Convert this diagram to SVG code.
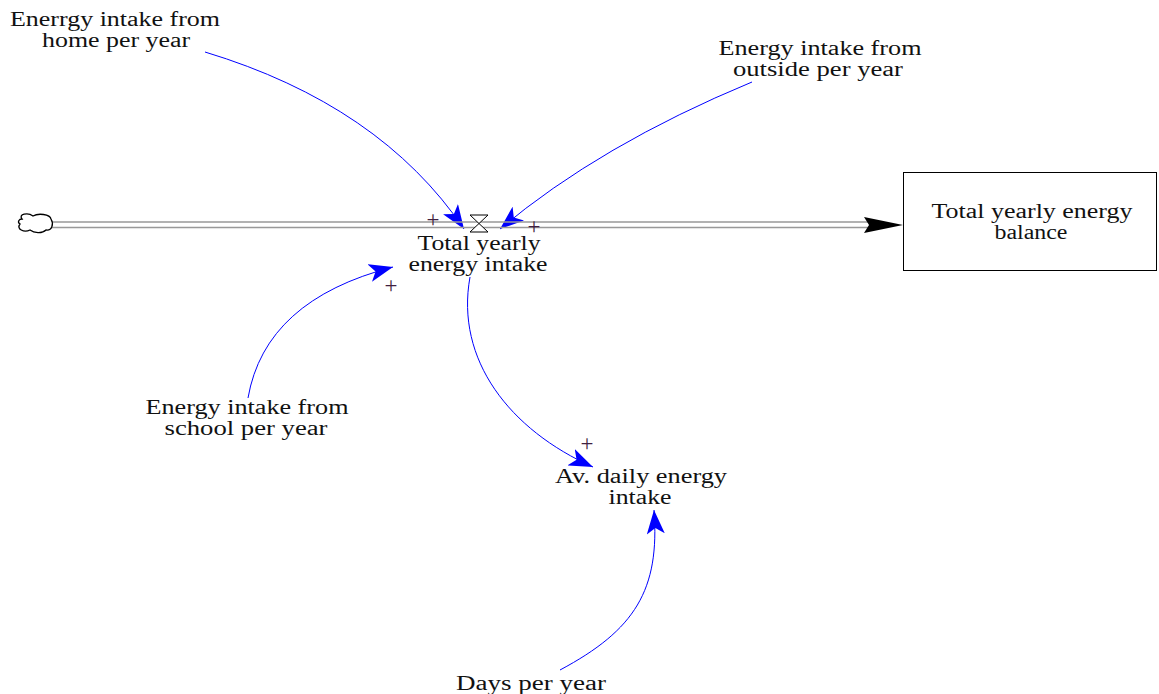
<svg xmlns="http://www.w3.org/2000/svg" width="1159" height="694" viewBox="0 0 1159 694">
<style>
.t{font-family:"Liberation Serif","Times New Roman",serif;font-size:20px;fill:#111;text-anchor:middle}
.lk{fill:none;stroke:#0000ff;stroke-width:1}
.pl{font-family:"Liberation Serif","Times New Roman",serif;font-size:23px;fill:#402040;text-anchor:middle}
</style>
<defs>
<marker id="ah" markerUnits="userSpaceOnUse" markerWidth="26" markerHeight="18" refX="24" refY="9" orient="auto">
<path d="M0,0 L24,9 L0,18 L6,9 Z" fill="#0000ff"/>
</marker>
</defs>
<g id="connectors">
<path class="lk" d="M205,52 Q380,105 464,229" marker-end="url(#ah)"/>
<path class="lk" d="M752,82 Q600,145 500,229" marker-end="url(#ah)"/>
<path class="lk" d="M248,398 Q265,300 393,267" marker-end="url(#ah)"/>
<path class="lk" d="M470,277 C455,360 510,430 593,467" marker-end="url(#ah)"/>
<path class="lk" d="M560,670 C635,630 660,590 654,510" marker-end="url(#ah)"/>
</g>
<g id="flow">
<line x1="52" y1="222" x2="868" y2="222" stroke="#999" stroke-width="1.5"/>
<line x1="52" y1="227.5" x2="868" y2="227.5" stroke="#999" stroke-width="1.5"/>
<path d="M864,217 L903,225 L864,233 L869,225 Z" fill="#000"/>
<path d="M22,219 C18,214 28,212 33,216 C38,213 50,214 51,219 C54,224 52,231 46,230 C42,234 34,233 30,230 C24,233 16,229 20,224 C17,222 19,219 22,219 Z" fill="#fff" stroke="#000" stroke-width="1.3"/>
<path d="M470,215 L488,215 L470,232 L488,232 Z" fill="#fff" stroke="#000" stroke-width="1"/>
<text class="pl" x="433" y="227">+</text>
<text class="pl" x="534" y="234">+</text>
<text class="pl" x="391" y="293">+</text>
<text class="pl" x="587" y="451">+</text>
</g>
<g id="home"><text class="t" x="115" y="26" textLength="210" lengthAdjust="spacingAndGlyphs">Enerrgy intake from</text><text class="t" x="116" y="47" textLength="148" lengthAdjust="spacingAndGlyphs">home per year</text></g>
<g id="outside"><text class="t" x="820" y="55" textLength="203" lengthAdjust="spacingAndGlyphs">Energy intake from</text><text class="t" x="818" y="76" textLength="170" lengthAdjust="spacingAndGlyphs">outside per year</text></g>
<g id="intake"><text class="t" x="479" y="250" textLength="123" lengthAdjust="spacingAndGlyphs">Total yearly</text><text class="t" x="478" y="271" textLength="139" lengthAdjust="spacingAndGlyphs">energy intake</text></g>
<g id="balance"><rect x="903.5" y="172.5" width="253" height="98" fill="#fff" stroke="#000" stroke-width="1"/><text class="t" x="1032" y="218" textLength="201" lengthAdjust="spacingAndGlyphs">Total yearly energy</text><text class="t" x="1031" y="239" textLength="73" lengthAdjust="spacingAndGlyphs">balance</text></g>
<g id="school"><text class="t" x="247" y="414" textLength="203" lengthAdjust="spacingAndGlyphs">Energy intake from</text><text class="t" x="246" y="435" textLength="163" lengthAdjust="spacingAndGlyphs">school per year</text></g>
<g id="daily"><text class="t" x="641" y="483" textLength="172" lengthAdjust="spacingAndGlyphs">Av. daily energy</text><text class="t" x="640" y="504" textLength="63" lengthAdjust="spacingAndGlyphs">intake</text></g>
<g id="days"><text class="t" x="531" y="690" textLength="150" lengthAdjust="spacingAndGlyphs">Days per year</text></g>
</svg>
